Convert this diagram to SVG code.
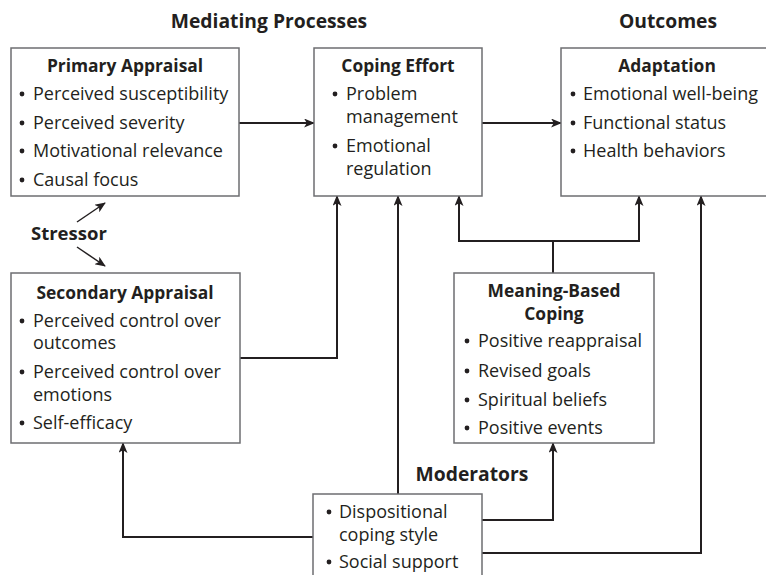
<svg xmlns="http://www.w3.org/2000/svg" width="766" height="575" viewBox="0 0 766 575">
<defs>
<marker id="ah" viewBox="0 0 12 10" refX="11" refY="5" markerWidth="12" markerHeight="9" markerUnits="userSpaceOnUse" orient="auto">
<path d="M0,0 L12,5 L0,10 L3,5 Z" fill="#231f20"/>
</marker>
</defs>
<style>
.box{fill:#fff;stroke:#6d6e71;stroke-width:1.5}
.t{font-family:"Open Sans","Noto Sans",sans-serif;font-size:18px;fill:#231f20}
.b{font-weight:bold;font-size:17.4px}
.h{font-family:"Open Sans","Noto Sans",sans-serif;font-size:19.3px;font-weight:bold;fill:#231f20}
.dot{fill:#231f20}
.c{fill:none;stroke:#231f20;stroke-width:2}
.ca{fill:none;stroke:#231f20;stroke-width:2;marker-end:url(#ah)}
</style>
<rect width="766" height="575" fill="#fff"/>
<g id="headings">
<text class="h" x="269" y="28" text-anchor="middle">Mediating Processes</text>
<text class="h" x="668" y="28" text-anchor="middle">Outcomes</text>
<text class="h" x="472" y="481" text-anchor="middle">Moderators</text>
</g>
<g id="connectors">
<path class="ca" d="M239,123 H314"/>
<path class="ca" d="M482,123 H561"/>
<path class="ca" d="M240,358 H337 V196"/>
<path class="ca" d="M398,494 V196"/>
<path class="c" d="M553,273 V241"/>
<path class="ca" d="M553,241 H459 V196"/>
<path class="ca" d="M553,241 H639 V196"/>
<path class="ca" d="M313,537 H123 V443"/>
<path class="ca" d="M482,520 H553 V443"/>
<path class="ca" d="M482,553 H701 V196"/>
<path class="ca" d="M77,222 L105,203" style="stroke-width:1.5"/>
<path class="ca" d="M77,247 L105,266" style="stroke-width:1.5"/>
</g>
<g id="stressor">
<text class="h" x="31" y="240" style="font-size:18.5px">Stressor</text>
</g>
<g id="primary-appraisal">
<rect class="box" x="11" y="48" width="228" height="148"/>
<text class="t b" x="125" y="72" text-anchor="middle">Primary Appraisal</text>
<circle class="dot" cx="22" cy="94" r="2.4"/>
<text class="t" x="33" y="100">Perceived susceptibility</text>
<circle class="dot" cx="22" cy="123" r="2.4"/>
<text class="t" x="33" y="129">Perceived severity</text>
<circle class="dot" cx="22" cy="151" r="2.4"/>
<text class="t" x="33" y="157">Motivational relevance</text>
<circle class="dot" cx="22" cy="180" r="2.4"/>
<text class="t" x="33" y="186">Causal focus</text>
</g>
<g id="coping-effort">
<rect class="box" x="314" y="48" width="168" height="148"/>
<text class="t b" x="398" y="72" text-anchor="middle">Coping Effort</text>
<circle class="dot" cx="335" cy="94" r="2.4"/>
<text class="t" x="346" y="100">Problem</text>
<text class="t" x="346" y="123">management</text>
<circle class="dot" cx="335" cy="146" r="2.4"/>
<text class="t" x="346" y="152">Emotional</text>
<text class="t" x="346" y="175">regulation</text>
</g>
<g id="adaptation">
<rect class="box" x="561" y="48" width="220" height="148"/>
<text class="t b" x="667" y="72" text-anchor="middle">Adaptation</text>
<circle class="dot" cx="573" cy="94" r="2.4"/>
<text class="t" x="583" y="100">Emotional well-being</text>
<circle class="dot" cx="573" cy="123" r="2.4"/>
<text class="t" x="583" y="129">Functional status</text>
<circle class="dot" cx="573" cy="151" r="2.4"/>
<text class="t" x="583" y="157">Health behaviors</text>
</g>
<g id="secondary-appraisal">
<rect class="box" x="11" y="273" width="229" height="170"/>
<text class="t b" x="125" y="299" text-anchor="middle">Secondary Appraisal</text>
<circle class="dot" cx="22" cy="321" r="2.4"/>
<text class="t" x="33" y="327">Perceived control over</text>
<text class="t" x="33" y="349">outcomes</text>
<circle class="dot" cx="22" cy="372" r="2.4"/>
<text class="t" x="33" y="378">Perceived control over</text>
<text class="t" x="33" y="401">emotions</text>
<circle class="dot" cx="22" cy="423" r="2.4"/>
<text class="t" x="33" y="429">Self-efficacy</text>
</g>
<g id="meaning-based-coping">
<rect class="box" x="454" y="273" width="200" height="170"/>
<text class="t b" x="554" y="297" text-anchor="middle">Meaning-Based</text>
<text class="t b" x="554" y="320" text-anchor="middle">Coping</text>
<circle class="dot" cx="467" cy="341" r="2.4"/>
<text class="t" x="478" y="347">Positive reappraisal</text>
<circle class="dot" cx="467" cy="371" r="2.4"/>
<text class="t" x="478" y="377">Revised goals</text>
<circle class="dot" cx="467" cy="400" r="2.4"/>
<text class="t" x="478" y="406">Spiritual beliefs</text>
<circle class="dot" cx="467" cy="428" r="2.4"/>
<text class="t" x="478" y="434">Positive events</text>
</g>
<g id="moderators">
<rect class="box" x="313" y="494" width="169" height="100"/>
<circle class="dot" cx="329" cy="512" r="2.4"/>
<text class="t" x="339" y="518">Dispositional</text>
<text class="t" x="339" y="541">coping style</text>
<circle class="dot" cx="329" cy="562" r="2.4"/>
<text class="t" x="339" y="568">Social support</text>
</g>
</svg>
